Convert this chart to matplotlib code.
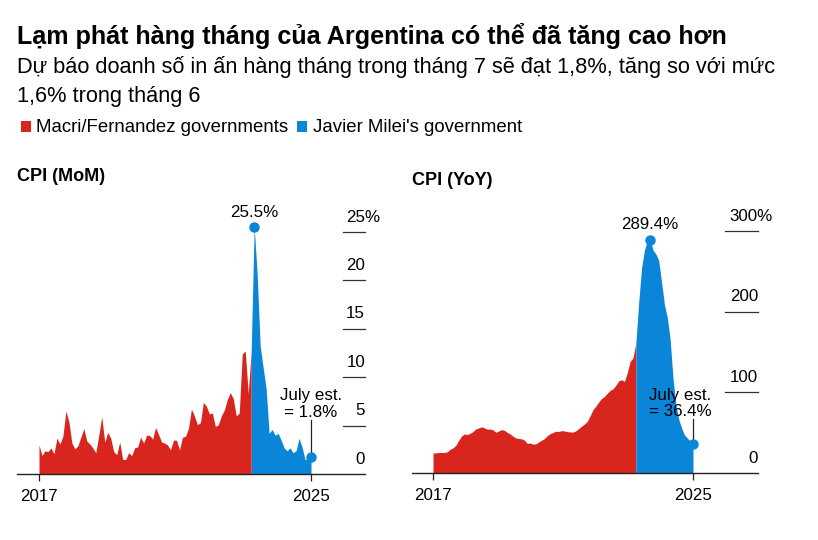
import numpy as np
import matplotlib
matplotlib.use('Agg')
import matplotlib.pyplot as plt
import matplotlib.transforms as mtransforms
from matplotlib.patches import Rectangle

plt.rcParams['font.family'] = ['Liberation Sans', 'DejaVu Sans']

# monthly CPI, Dec 2017 .. Jul 2025
cpi_mom = [3.0,
           1.9, 2.4, 2.3, 2.7, 2.1, 3.7, 3.1, 3.9, 6.5, 5.4, 3.2, 2.6,
           2.9, 3.8, 4.7, 3.4, 3.1, 2.7, 2.2, 4.0, 5.9, 3.3, 4.3, 3.7,
           2.3, 2.0, 3.3, 1.5, 1.5, 2.2, 1.9, 2.7, 2.8, 3.8, 3.2, 4.0,
           4.0, 3.6, 4.8, 4.1, 3.3, 3.2, 3.0, 2.5, 3.5, 3.5, 2.5, 3.8,
           3.9, 4.7, 6.7, 6.0, 5.1, 5.3, 7.4, 7.0, 6.2, 6.3, 4.9, 5.1,
           6.0, 6.6, 7.7, 8.4, 7.8, 6.0, 6.3, 12.4, 12.7, 8.3, 12.8, 25.5,
           20.6, 13.2, 11.0, 8.8, 4.2, 4.6, 4.0, 4.2, 3.5, 2.7, 2.4, 2.7,
           2.2, 2.4, 3.7, 2.8, 1.5, 1.6, 1.8]
cpi_yoy = [24.8,
           25.0, 25.4, 25.4, 25.5, 26.3, 29.5, 31.2, 34.4, 40.5, 45.9, 48.5, 47.6,
           49.3, 51.3, 54.7, 55.8, 57.3, 55.8, 54.4, 54.5, 53.5, 50.5, 52.1, 53.8,
           52.9, 50.3, 48.4, 45.6, 43.4, 42.8, 42.4, 40.7, 36.6, 37.2, 35.8, 36.1,
           38.5, 40.7, 42.6, 46.3, 48.8, 50.2, 51.8, 51.4, 52.5, 52.1, 51.2, 50.9,
           50.7, 52.3, 55.1, 58.0, 60.7, 64.0, 71.0, 78.5, 83.0, 88.0, 92.4, 94.8,
           98.8, 102.5, 104.3, 108.8, 114.2, 115.6, 113.4, 124.4, 138.3, 142.7, 160.9, 211.4,
           254.2, 276.2, 287.9, 289.4, 276.4, 271.5, 263.4, 236.7, 209.0, 193.0, 166.0, 117.8,
           84.5, 66.9, 55.9, 47.3, 43.5, 39.4, 36.4]

milei_start = 71          # Nov 2023 -> blue series from here on
x_labels = ['2017', '2025']
mom_ticks = [0, 5, 10, 15, 20, 25]
yoy_ticks = [0, 100, 200, 300]

title = 'Lạm phát hàng tháng của Argentina có thể đã tăng cao hơn'
subtitle = ['Dự báo doanh số in ấn hàng tháng trong tháng 7 sẽ đạt 1,8%, tăng so với mức',
            '1,6% trong tháng 6']
legend_labels = ['Macri/Fernandez governments', "Javier Milei's government"]

red = '#d8261f'
blue = '#0a85d7'
dark = '#222222'
fs = 12.2

W, H = 818, 540
fig = plt.figure(figsize=(W / 100, H / 100), dpi=100)
renderer = fig.canvas.get_renderer()

# width of the "%" sign, so the top tick label can hang past the numbers
tmp = fig.text(0, 0, '%', fontsize=fs)
pct_w = tmp.get_window_extent(renderer=renderer).width * 72 / 100
tmp.remove()


def px_axes(x0, x1, ytop, ybase):
    return fig.add_axes([x0 / W, (H - ybase) / H, (x1 - x0) / W, (ybase - ytop) / H])


def draw_panel(ax, vals, ticks, ylim, xlim, tick_x0, peak_fmt, est_fmt, est_x, lead_top):
    vals = np.array(vals)
    x = np.arange(len(vals))
    ax.fill_between(x[:milei_start + 1], vals[:milei_start + 1], color=red, lw=0)
    ax.fill_between(x[milei_start:], vals[milei_start:], color=blue, lw=0)
    ax.set_xlim(*xlim)
    ax.set_ylim(*ylim)
    for s in ['top', 'left', 'right']:
        ax.spines[s].set_visible(False)
    ax.spines['bottom'].set_color(dark)
    ax.spines['bottom'].set_linewidth(1.0)
    ax.set_yticks([])
    ax.set_xticks([0, len(vals) - 1])
    ax.set_xticklabels(x_labels, fontsize=fs)
    ax.tick_params(axis='x', length=5, width=0.9, color=dark, pad=6)

    # y ticks drawn on the right, inside the plot
    trans = mtransforms.blended_transform_factory(ax.transAxes, ax.transData)
    for v in ticks:
        if v > 0:
            ax.plot([tick_x0, 1], [v, v], transform=trans, color='#333333', lw=0.9, clip_on=False)
        if v == ticks[-1]:
            ax.annotate(f'{v}%', xy=(1, v), xycoords=trans, xytext=(pct_w, 7.5),
                        textcoords='offset points', ha='right', va='baseline', fontsize=fs)
        else:
            ax.annotate(str(v), xy=(1, v), xycoords=trans, xytext=(0, 7.5),
                        textcoords='offset points', ha='right', va='baseline', fontsize=fs)

    # peak
    pk = int(np.argmax(vals))
    ax.plot(pk, vals[pk], 'o', color=blue, ms=6.5, zorder=5, clip_on=False)
    ax.annotate(peak_fmt.format(vals[pk]), xy=(pk, vals[pk]), xytext=(0, 7.5),
                textcoords='offset points', ha='center', va='baseline', fontsize=fs)

    # latest estimate
    last = len(vals) - 1
    ax.plot([last, last], [vals[last], lead_top], color=dark, lw=0.9, zorder=4)
    ax.plot(last, vals[last], 'o', color=blue, ms=6.5, zorder=5, clip_on=False)
    ax.text(est_x, lead_top, est_fmt.format(vals[last]), ha='center', va='bottom',
            fontsize=fs, linespacing=1.15)


ax1 = px_axes(17, 365, 200, 474)
draw_panel(ax1, cpi_mom, mom_ticks, (0, 274 / 9.68), (-22 / 2.989, 326 / 2.989),
           (343 - 17) / 348, '{:.1f}%', 'July est.\n= {:.1f}%', 91, 5.6)

ax2 = px_axes(412, 758, 200, 473)
draw_panel(ax2, cpi_yoy, yoy_ticks, (0, 273 / 0.8067), (-21 / 2.857, 325 / 2.857),
           (725 - 412) / 346, '{:.1f}%', 'July est.\n= {:.1f}%', 86.6, 66.5)

# headings
fig.text(17 / W, 1 - 44.3 / H, title, fontsize=18.1, weight='bold', va='baseline')
fig.text(17 / W, 1 - 73.3 / H, subtitle[0], fontsize=15.7, va='baseline')
fig.text(17 / W, 1 - 102.3 / H, subtitle[1], fontsize=15.7, va='baseline')
fig.text(17 / W, 1 - 181 / H, 'CPI (MoM)', fontsize=13, weight='bold', va='baseline')
fig.text(412 / W, 1 - 185 / H, 'CPI (YoY)', fontsize=13, weight='bold', va='baseline')

# legend
x_pos = 20.5
for lab, col in zip(legend_labels, [red, blue]):
    fig.add_artist(Rectangle((x_pos / W, 1 - 132 / H), 10.5 / W, 10.5 / H,
                             transform=fig.transFigure, color=col, lw=0))
    t = fig.text((x_pos + 16) / W, 1 - 132.3 / H, lab, fontsize=13.4, va='baseline')
    ext = t.get_window_extent(renderer=renderer)
    x_pos = ext.x1 + 8

fig.savefig('out.png', dpi=100)
